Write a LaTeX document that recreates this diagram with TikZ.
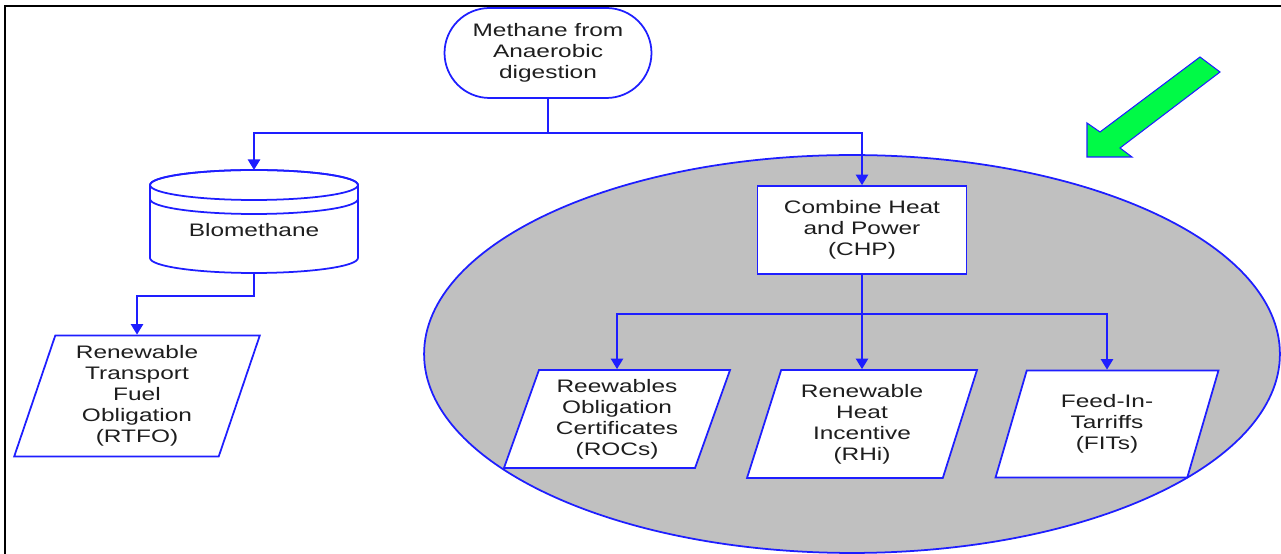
\documentclass[tikz,border=0pt]{standalone}
\usepackage{fontspec}
\newfontfamily\diagfont{Liberation Sans}[FakeStretch=1.35]
\usetikzlibrary{shapes.geometric,arrows.meta}
\definecolor{lineblue}{RGB}{30,30,255}
\definecolor{ovalgray}{RGB}{192,192,192}
\definecolor{arrowgreen}{RGB}{0,250,70}
\definecolor{textgray}{RGB}{30,30,30}
\begin{document}
\begin{tikzpicture}[x=0.02cm,y=0.02cm,
 box/.style={draw=lineblue,line width=1pt,fill=white,text=textgray,align=center,
   font=\diagfont\fontsize{10.3}{11.9}\selectfont,inner sep=0pt},
 para/.style 2 args={box,trapezium,trapezium stretches=true,
   trapezium left angle=#1,trapezium right angle=#2},
 link/.style={draw=lineblue,line width=1pt},
 flow/.style={link,-{Triangle[length=6pt,width=7pt]}}]
 \useasboundingbox (0,0) rectangle (1281,554);
 % frame
 \draw[line width=1.2pt] (5,0) -- (5,548) -- (1281,548);
 % grey oval
 \draw[link,fill=ovalgray] (852,200) ellipse (8.56cm and 3.98cm);
 % green pointer
 \draw[draw=lineblue,line width=0.6pt,fill=arrowgreen] (1087,397) -- (1087,431) -- (1100,422)
   -- (1200,497) -- (1220,482) -- (1120,406) -- (1132,397) -- cycle;
 % top node
 \node[box,minimum width=4.14cm,minimum height=1.8cm,rounded corners=0.9cm] (methane) at (548,501)
   {Methane from\\Anaerobic\\digestion};
 % cylinder
 \coordinate (biotop) at (254,384);
 \coordinate (biobot) at (254,281);
 \draw[link,fill=white] (150,369) -- (150,296)
   arc[start angle=180,end angle=360,x radius=2.08cm,y radius=0.3cm] -- (358,369)
   arc[start angle=0,end angle=180,x radius=2.08cm,y radius=0.3cm];
 \draw[link] (254,369) ellipse (2.08cm and 0.3cm);
 \draw[link] (150,355) arc[start angle=180,end angle=360,x radius=2.08cm,y radius=0.3cm];
 \node[box,draw=none,fill=none] (bio) at (254,324) {Blomethane};
 \node[para={73}{107},minimum width=4.92cm,minimum height=2.42cm] (rtfo) at (137,158)
   {Renewable\\Transport\\Fuel\\Obligation\\(RTFO)};
 % right branch
 \node[box,minimum width=4.18cm,minimum height=1.76cm] (chp) at (862,324)
   {Combine Heat\\and Power\\(CHP)};
 \node[para={71}{109},minimum width=4.54cm,minimum height=1.96cm] (rocs) at (617,135)
   {Reewables\\Obligation\\Certificates\\(ROCs)};
 \node[para={72}{108},minimum width=4.6cm,minimum height=2.16cm] (rhi) at (862,130)
   {Renewable\\Heat\\Incentive\\(RHi)};
 \node[para={73}{107},minimum width=4.46cm,minimum height=2.14cm] (fits) at (1107,130)
   {Feed-In-\\Tarriffs\\(FITs)};
 % connectors
 \coordinate (split) at (548,421);
 \coordinate (biojoin) at (254,258);
 \coordinate (chpsplit) at (862,240);
 \draw[link] (methane.south) -- (split);
 \draw[flow] (split) -| (biotop);
 \draw[flow] (split) -| (chp.north);
 \draw[flow] (biobot) -- (biojoin) -| (rtfo.north);
 \draw[flow] (chp.south) -- (rhi.north);
 \draw[flow] (chpsplit) -| (rocs.north);
 \draw[flow] (chpsplit) -| (fits.north);
\end{tikzpicture}
\end{document}
